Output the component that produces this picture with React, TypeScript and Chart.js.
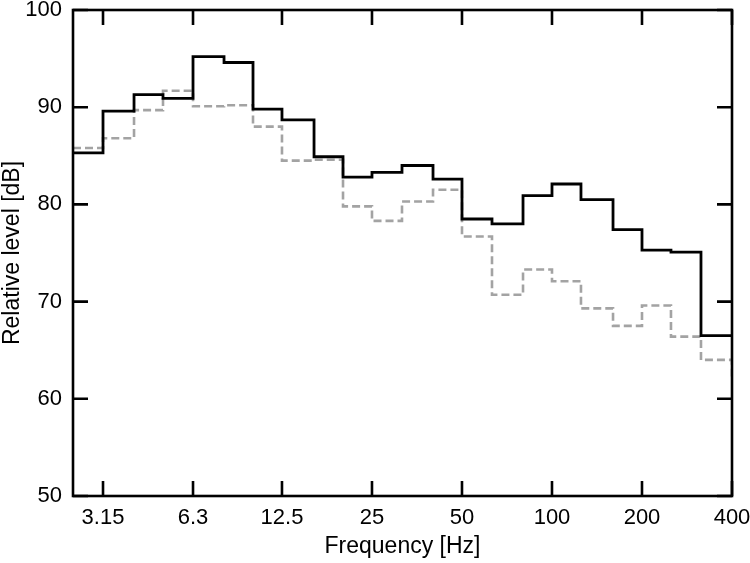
import React, { useEffect, useRef } from 'react';
import { Chart, registerables } from 'chart.js';

Chart.register(...registerables);

// 1/3-octave band frequencies (Hz); each level is held until the next band
const frequencies = [2.5, 3.15, 4, 5, 6.3, 8, 10, 12.5, 16, 20, 25, 31.5, 40, 50, 63, 80, 100, 125, 160, 200, 250, 315, 400];
const levelSolid = [85.3, 89.6, 91.3, 90.9, 95.2, 94.6, 89.8, 88.7, 84.9, 82.8, 83.3, 84.0, 82.6, 78.5, 78.0, 80.9, 82.1, 80.5, 77.4, 75.3, 75.1, 66.5, 66.5];
const levelDashed = [85.8, 86.8, 89.7, 91.7, 90.1, 90.2, 88.0, 84.5, 84.6, 79.8, 78.3, 80.3, 81.5, 76.7, 70.7, 73.3, 72.1, 69.3, 67.5, 69.6, 66.4, 64.0, 62.3];
const xTickValues = [3.15, 6.3, 12.5, 25, 50, 100, 200, 400];
const yTickValues = [50, 60, 70, 80, 90, 100];

const FONT = '"Liberation Sans", Arial, Helvetica, sans-serif';

export default function App() {
  const canvasRef = useRef<HTMLCanvasElement>(null);

  useEffect(() => {
    document.body.style.margin = '0';
    const canvas = canvasRef.current;
    if (!canvas) return;

    const framePlugin = {
      id: 'frameTicks',
      afterDatasetsDraw(chart: any) {
        const { ctx, chartArea: a, scales } = chart;
        ctx.save();
        ctx.strokeStyle = '#000';
        ctx.lineWidth = 2.6;
        ctx.lineCap = 'butt';
        ctx.strokeRect(a.left, a.top, a.right - a.left, a.bottom - a.top);
        const len = 15;
        ctx.beginPath();
        for (const v of xTickValues) {
          const x = scales.x.getPixelForValue(v);
          ctx.moveTo(x, a.bottom);
          ctx.lineTo(x, a.bottom - len);
          ctx.moveTo(x, a.top);
          ctx.lineTo(x, a.top + len);
        }
        for (const v of yTickValues) {
          const y = scales.y.getPixelForValue(v);
          ctx.moveTo(a.left, y);
          ctx.lineTo(a.left + len, y);
          ctx.moveTo(a.right, y);
          ctx.lineTo(a.right - len, y);
        }
        ctx.stroke();
        ctx.restore();
      },
    };

    const chart = new Chart(canvas, {
      type: 'line',
      data: {
        datasets: [
          {
            label: 'Solid',
            data: frequencies.map((f, i) => ({ x: f, y: levelSolid[i] })),
            borderColor: '#000000',
            borderWidth: 2.8,
            stepped: 'before',
            pointRadius: 0,
            fill: false,
          },
          {
            label: 'Dashed',
            data: frequencies.map((f, i) => ({ x: f, y: levelDashed[i] })),
            borderColor: '#a3a3a3',
            borderWidth: 2.6,
            borderDash: [8, 4],
            stepped: 'before',
            pointRadius: 0,
            fill: false,
          },
        ],
      },
      options: {
        animation: false,
        responsive: true,
        maintainAspectRatio: false,
        devicePixelRatio: 1,
        layout: { padding: { top: 10, right: 18, left: 0, bottom: 0 } },
        plugins: {
          legend: { display: false },
          tooltip: { enabled: false },
        },
        scales: {
          x: {
            type: 'logarithmic',
            min: 2.5,
            max: 400,
            grid: { display: false, drawTicks: false },
            border: { display: false },
            afterBuildTicks: (scale: any) => {
              scale.ticks = xTickValues.map((v) => ({ value: v }));
            },
            afterFit: (scale: any) => {
              scale.height = 67;
              scale.paddingLeft = 0;
              scale.paddingRight = 0;
            },
            ticks: {
              autoSkip: false,
              maxRotation: 0,
              minRotation: 0,
              padding: 9,
              color: '#000',
              font: { family: FONT, size: 22 },
              callback: (v: any) => String(v),
            },
            title: {
              display: true,
              text: 'Frequency [Hz]',
              color: '#000',
              font: { family: FONT, size: 23 },
              padding: { top: 0, bottom: 3 },
            },
          },
          y: {
            type: 'linear',
            min: 50,
            max: 100,
            grid: { display: false, drawTicks: false },
            border: { display: false },
            afterBuildTicks: (scale: any) => {
              scale.ticks = yTickValues.map((v) => ({ value: v }));
            },
            afterFit: (scale: any) => {
              scale.width = 73;
              scale.paddingTop = 0;
              scale.paddingBottom = 0;
            },
            ticks: {
              padding: 11,
              color: '#000',
              font: { family: FONT, size: 22 },
              callback: (v: any) => String(v),
            },
            title: {
              display: true,
              text: 'Relative level [dB]',
              color: '#000',
              font: { family: FONT, size: 23, lineHeight: 1.1 },
              padding: { top: 0, bottom: 0 },
            },
          },
        },
      },
      plugins: [framePlugin],
    });

    return () => chart.destroy();
  }, []);

  return (
    <div style={{ width: 750, height: 563, position: 'relative' }}>
      <canvas ref={canvasRef} />
    </div>
  );
}
